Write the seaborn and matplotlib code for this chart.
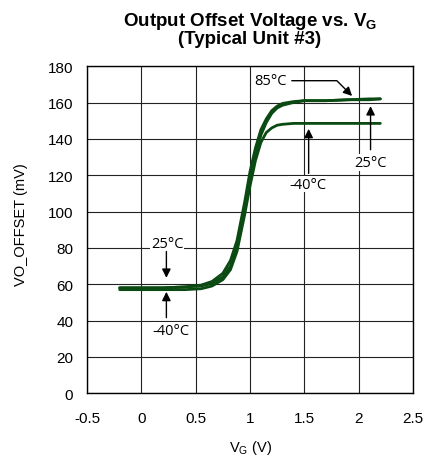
import pandas as pd
import numpy as np
import matplotlib.pyplot as plt
import seaborn as sns

# data
vg = [-0.2, 0.0, 0.2, 0.4, 0.55, 0.65, 0.75, 0.82, 0.88, 0.95, 1.0, 1.05, 1.1, 1.15, 1.2, 1.25, 1.3, 1.4, 1.5, 1.7, 1.9, 2.1, 2.2]
vo_25 = [58, 58, 58, 58.5, 59, 60.5, 64, 70, 80, 100, 117, 131, 142, 149, 154, 157, 158.5, 160, 161, 161, 161.5, 162, 162]
vo_85 = [58, 58, 58, 58.5, 59.5, 61.5, 66, 73, 84, 105, 122, 135, 145, 151, 155.5, 158, 159.5, 160.5, 161, 161, 161.5, 161.5, 162]
vo_m40 = [57, 57, 57, 57, 57.5, 59, 62.5, 68, 78, 98, 114, 128, 138, 143.5, 146, 147.5, 148, 148.5, 148.5, 148.5, 148.5, 148.5, 148.5]

x_ticks = [-0.5, 0, 0.5, 1, 1.5, 2, 2.5]
x_tick_labels = ["-0.5", "0", "0.5", "1", "1.5", "2", "2.5"]
y_ticks = [0, 20, 40, 60, 80, 100, 120, 140, 160, 180]

df = pd.concat([
    pd.DataFrame({"VG": vg, "VO": vo_25, "Temp": "25°C"}),
    pd.DataFrame({"VG": vg, "VO": vo_85, "Temp": "85°C"}),
    pd.DataFrame({"VG": vg, "VO": vo_m40, "Temp": "-40°C"}),
])

sns.set_style("white")
plt.rcParams["font.family"] = ["Liberation Sans", "DejaVu Sans"]
plt.rcParams["mathtext.fontset"] = "custom"
plt.rcParams["mathtext.rm"] = "Liberation Sans"
plt.rcParams["mathtext.bf"] = "Liberation Sans:bold"
plt.rcParams["text.color"] = "black"
plt.rcParams["axes.labelcolor"] = "black"
plt.rcParams["xtick.color"] = "black"
plt.rcParams["ytick.color"] = "black"

fig = plt.figure(figsize=(4.27, 4.60), dpi=100)
ax = fig.add_axes([0.204, 0.143, 0.763, 0.711])

green = "#0b4a12"
sns.lineplot(data=df, x="VG", y="VO", hue="Temp", units="Temp", estimator=None,
             palette=[green, green, green], linewidth=2.0, legend=False, ax=ax,
             sort=False)

ax.set_xlim(-0.5, 2.5)
ax.set_ylim(0, 180)
ax.set_xticks(x_ticks)
ax.set_xticklabels(x_tick_labels)
ax.set_yticks(y_ticks)
ax.grid(True, color="#222222", linewidth=0.8)
ax.set_axisbelow(True)
for s in ax.spines.values():
    s.set_color("black")
    s.set_linewidth(1.0)
ax.tick_params(axis="both", labelsize=11, length=0)
ax.tick_params(axis="x", pad=13)
ax.tick_params(axis="y", pad=10)

ax.set_xlabel("V$_\\mathregular{G}$ (V)", fontsize=10.5, labelpad=9)
ax.set_ylabel("VO_OFFSET (mV)", fontsize=10.5)
ax.yaxis.set_label_coords(-0.18, 0.52)
ax.set_title("Output Offset Voltage vs. V$_\\mathbf{G}$\n(Typical Unit #3)",
             fontsize=13.5, fontweight="bold", linespacing=0.85, pad=17)

# annotations
afont = dict(family=["Open Sans", "DejaVu Sans"], fontsize=10.5)
arrow = dict(arrowstyle="-|>", color="black", lw=1.0, mutation_scale=13, shrinkA=0, shrinkB=0)
box = dict(facecolor="white", edgecolor="none", pad=0.5)

ax.annotate("85°C", xy=(1.94, 163.6), xytext=(1.19, 172), ha="center", va="center",
            arrowprops=dict(arrow, shrinkA=3, connectionstyle="angle,angleA=0,angleB=-45,rad=0"),
            bbox=box, **afont)
ax.annotate("", xy=(2.11, 158), xytext=(2.11, 134), arrowprops=arrow)
ax.text(2.11, 127, "25°C", ha="center", va="center", bbox=box, **afont)
ax.annotate("", xy=(1.54, 145.5), xytext=(1.54, 121), arrowprops=arrow)
ax.text(1.53, 115, "-40°C", ha="center", va="center", bbox=box, **afont)

ax.text(0.24, 82.6, "25°C", ha="center", va="center", bbox=box, **afont)
ax.annotate("", xy=(0.23, 63.5), xytext=(0.23, 78), arrowprops=arrow)
ax.annotate("", xy=(0.23, 55.8), xytext=(0.23, 41.6), arrowprops=arrow)
ax.text(0.27, 34.5, "-40°C", ha="center", va="center", bbox=box, **afont)

plt.savefig("out.png", dpi=100)
